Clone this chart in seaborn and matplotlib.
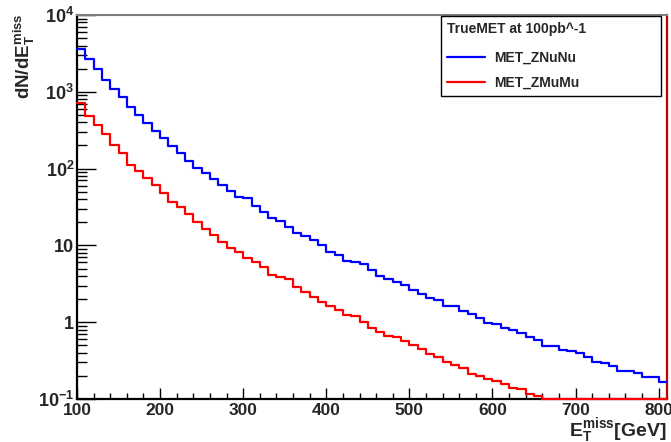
import numpy as np
import pandas as pd
import seaborn as sns
import matplotlib.pyplot as plt
from matplotlib.ticker import LogLocator, MultipleLocator, NullFormatter

# binning of the missing-ET histograms (10 GeV bins)
edges = np.arange(100, 811, 10)

# MET_ZNuNu contents per bin
znunu = [3600, 2700, 2000, 1420, 1090, 860, 640, 500, 395, 312,
         252, 198, 160, 125, 103, 88, 74, 61, 51, 43,
         41, 33, 27.5, 23, 20.5, 17.5, 14.6, 13.1, 11.6, 10.0,
         8.3, 7.45, 6.3, 6.0, 5.65, 4.85, 4.0, 3.65, 3.3, 3.07,
         2.65, 2.32, 2.07, 1.95, 1.64, 1.62, 1.40, 1.27, 1.15, 0.98,
         0.95, 0.83, 0.79, 0.72, 0.64, 0.58, 0.49, 0.49, 0.43, 0.42,
         0.40, 0.355, 0.305, 0.29, 0.27, 0.23, 0.23, 0.216, 0.195, 0.195,
         0.168]

# MET_ZMuMu contents per bin
zmumu = [708, 489, 370, 282, 200, 159, 111, 94, 75, 62,
         47.5, 37, 32, 25.6, 20.4, 16.3, 13.7, 11.2, 9.3, 8.3,
         6.8, 6.1, 5.2, 4.1, 3.9, 3.6, 2.9, 2.46, 2.14, 1.85,
         1.64, 1.44, 1.24, 1.2, 1.02, 0.83, 0.75, 0.66, 0.64, 0.575,
         0.50, 0.45, 0.39, 0.35, 0.30, 0.28, 0.25, 0.21, 0.20, 0.18,
         0.174, 0.155, 0.141, 0.133, 0.115, 0.11, 0, 0, 0, 0,
         0, 0, 0, 0, 0, 0, 0, 0, 0, 0,
         0]

series_labels = ['MET_ZNuNu', 'MET_ZMuMu']
legend_title = 'TrueMET at 100pb^-1'
x_ticks = [100, 200, 300, 400, 500, 600, 700, 800]
y_ticks = [0.1, 1, 10, 100, 1000, 10000]
y_ticklabels = [r'$\mathbf{10^{-1}}$', '1', '10', r'$\mathbf{10^{2}}$',
                r'$\mathbf{10^{3}}$', r'$\mathbf{10^{4}}$']
ymin, ymax = 0.1, 10000

sns.set_style('ticks')
plt.rcParams['font.family'] = ['Liberation Sans', 'DejaVu Sans']
plt.rcParams['font.weight'] = 'bold'
plt.rcParams['mathtext.fontset'] = 'custom'
plt.rcParams['mathtext.bf'] = 'Liberation Sans:bold'
plt.rcParams['mathtext.rm'] = 'Liberation Sans:bold'
plt.rcParams['mathtext.it'] = 'Liberation Sans:bold'

fig = plt.figure(figsize=(6.71, 4.42), dpi=100)
ax = fig.add_axes([77 / 671, 1 - 399 / 442, 590 / 671, 384 / 442])

centers = edges[:-1] + 5
# ROOT draws empty bins on the bottom of a log frame
hists = {
    series_labels[0]: pd.DataFrame({'met': centers, 'w': np.clip(znunu, ymin, None)}),
    series_labels[1]: pd.DataFrame({'met': centers, 'w': np.clip(zmumu, ymin, None)}),
}
for name, color in zip(series_labels, ['#0000ff', '#ff0000']):
    sns.histplot(data=hists[name], x='met', weights='w', binwidth=10,
                 binrange=(edges[0], edges[-1]), element='step', fill=False,
                 color=color, linewidth=1.6, ax=ax)
for ln in ax.lines:
    ln.set_zorder(3)
    ln.set_clip_on(False)

ax.set_yscale('log')
ax.set_ylim(ymin, ymax)
ax.set_xlim(edges[0], edges[-1])

ax.set_yticks(y_ticks, y_ticklabels)
ax.yaxis.set_minor_locator(LogLocator(base=10, subs=np.arange(2, 10)))
ax.yaxis.set_minor_formatter(NullFormatter())
ax.set_xticks(x_ticks)
ax.xaxis.set_minor_locator(MultipleLocator(20))

ax.tick_params(axis='y', which='major', direction='in', length=13.5, width=1,
               labelsize=13, pad=2, color='black')
ax.tick_params(axis='y', which='minor', direction='in', length=7, width=1, color='black')
ax.tick_params(axis='x', which='major', direction='in', length=8, width=1,
               labelsize=12.5, pad=3, color='black')
ax.tick_params(axis='x', which='minor', direction='in', length=4.5, width=1, color='black')

for side in ['left', 'bottom']:
    ax.spines[side].set_color('black')
    ax.spines[side].set_linewidth(1.6)
ax.spines['top'].set_color('#808080')
ax.spines['top'].set_linewidth(1.5)
ax.spines['right'].set_color('#c00000')
ax.spines['right'].set_linewidth(1.6)

ax.set_xlabel(r'$\mathbf{E_{T}^{miss}}$[GeV]', fontsize=14, fontweight='bold',
              loc='right', labelpad=-1.5)
ax.set_ylabel(r'$\mathbf{dN/dE_{T}^{miss}}$', fontsize=13.5, fontweight='bold',
              loc='top')
ax.yaxis.set_label_coords(-0.068, 1.005)

leg = ax.legend(ax.lines[:2], series_labels, title=legend_title,
                loc='upper left',
                bbox_to_anchor=(441 / 671, 1 - 98 / 442, 220 / 671, 82 / 442),
                bbox_transform=fig.transFigure, mode='expand', borderaxespad=0,
                frameon=True, fancybox=False, framealpha=1, edgecolor='black',
                prop={'size': 10, 'weight': 'bold'},
                title_fontproperties={'size': 10, 'weight': 'bold'},
                alignment='left', handlelength=2.7, handletextpad=0.7,
                labelspacing=0.8, borderpad=0.45)
leg.get_frame().set_linewidth(1.0)
# a bit more room between the legend header and the entries, as in the original
leg._legend_box.sep = 10.5

plt.savefig('out.png', dpi=100)
